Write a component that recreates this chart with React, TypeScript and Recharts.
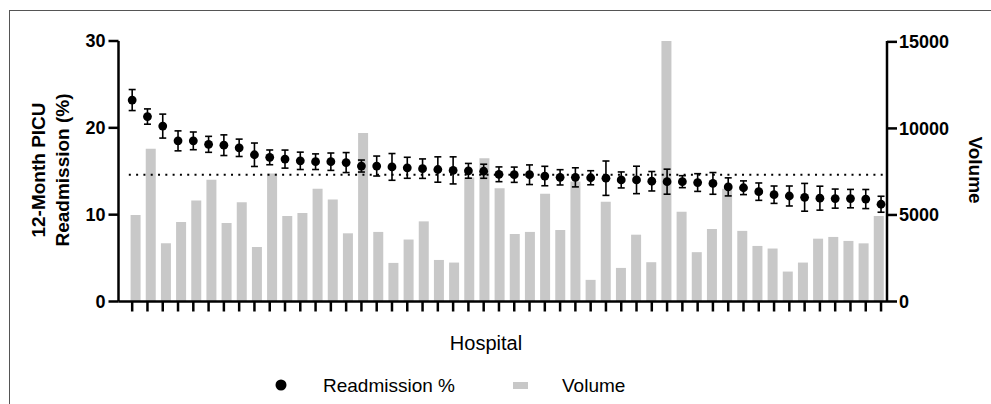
import React from "react";
import { Bar, ComposedChart, ErrorBar, Label, Legend, ReferenceLine, Scatter, XAxis, YAxis } from "recharts";

// hospital index (x position)
const hospitals = [
  0, 1, 2, 3, 4, 5, 6, 7, 8, 9, 10, 11, 12, 13, 14, 15, 16, 17, 18, 19, 20, 21, 22, 23, 24,
  25, 26, 27, 28, 29, 30, 31, 32, 33, 34, 35, 36, 37, 38, 39, 40, 41, 42, 43, 44, 45, 46, 47, 48, 49,
];
const readmission = [
  23.2, 21.3, 20.2, 18.5, 18.5, 18.1, 18.0, 17.7, 16.9, 16.6, 16.4, 16.2, 16.1, 16.1, 16.0, 15.6, 15.6,
  15.5, 15.4, 15.3, 15.2, 15.1, 15.05, 15.0, 14.65, 14.6, 14.6, 14.45, 14.3, 14.3, 14.25, 14.2, 14.0,
  14.0, 13.85, 13.8, 13.8, 13.7, 13.6, 13.2, 13.1, 12.65, 12.3, 12.15, 12.0, 11.9, 11.85, 11.85, 11.8, 11.2,
];
const readmissionErr = [
  1.21, 0.88, 1.38, 1.15, 1.02, 0.92, 1.19, 1.0, 1.35, 0.85, 1.04, 1.0, 0.9, 1.0, 1.15, 0.69, 1.15,
  1.54, 1.21, 1.12, 1.46, 1.56, 0.85, 0.81, 0.85, 0.88, 1.13, 1.12, 0.88, 1.1, 0.81, 1.98, 0.92,
  1.58, 1.12, 1.44, 0.69, 1.02, 1.25, 1.04, 0.79, 1.0, 1.0, 1.15, 1.6, 1.38, 1.1, 1.06, 1.1, 0.92,
];
const volume = [
  5000, 8820, 3360, 4600, 5830, 7040, 4540, 5730, 3150, 7400, 4940, 5120, 6520, 5900, 3940, 9730, 4020,
  2230, 3580, 4630, 2400, 2250, 7170, 8270, 6540, 3900, 4020, 6230, 4130, 6940, 1250, 5770, 1940,
  3860, 2270, 15050, 5190, 2850, 4190, 6520, 4080, 3210, 3060, 1730, 2250, 3630, 3730, 3500, 3360, 4940,
];
const pctTicks = [0, 10, 20, 30];
const volTicks = [0, 5000, 10000, 15000];
const overallRate = 14.6;

const data = hospitals.map((h, i) => ({
  i: h,
  pct: readmission[i],
  err: readmissionErr[i],
  volume: volume[i],
}));

const FONT = "'Liberation Sans', Arial, Helvetica, sans-serif";
const axisStyle = { stroke: "#000", strokeWidth: 2.5 };
const tickStyle = { fill: "#000", fontSize: 18, fontWeight: 700, fontFamily: FONT };

const Dot = (p: any) => <circle cx={p.cx} cy={p.cy} r={4.4} fill="#000" />;

function LegendBox() {
  return (
    <svg width={991} height={30} style={{ display: "block" }}>
      <circle cx={281} cy={15} r={5.5} fill="#000" />
      <text x={323} y={22} fontSize={19} fontFamily={FONT} fill="#000">Readmission %</text>
      <rect x={513} y={12} width={15} height={7} fill="#c8c8c8" />
      <text x={562} y={22} fontSize={19} fontFamily={FONT} fill="#000">Volume</text>
    </svg>
  );
}

export default function App() {
  return (
    <div style={{ position: "relative", width: 991, height: 404, background: "#fff", fontFamily: FONT }}>
      <style>{"body{margin:0}"}</style>
      <div
        style={{
          position: "absolute", left: 9, top: 10, width: 990, height: 400,
          borderTop: "1.5px solid #555", borderLeft: "1.5px solid #555",
        }}
      />
      <ComposedChart
        width={991}
        height={404}
        data={data}
        margin={{ top: 41, right: 0, bottom: 0, left: 0 }}
        style={{ position: "absolute", left: 0, top: 0 }}
      >
        <XAxis
          xAxisId="pts"
          dataKey="i"
          type="number"
          domain={[-0.895, 49.39]}
          allowDataOverflow
          ticks={hospitals}
          interval={0}
          tickFormatter={() => ""}
          tickSize={10}
          tickLine={axisStyle}
          axisLine={axisStyle}
          height={102.5}
        >
          <Label
            content={() => (
              <text x={486} y={350} textAnchor="middle" fontSize={20} fontFamily={FONT} fill="#000">
                Hospital
              </text>
            )}
          />
        </XAxis>
        <XAxis
          xAxisId="bars"
          dataKey="i"
          type="number"
          orientation="top"
          height={0}
          domain={[-1.099, 49.57]}
          allowDataOverflow
          hide
        />
        <YAxis
          yAxisId="pct"
          domain={[0, 30]}
          ticks={pctTicks}
          interval={0}
          width={118.5}
          tickSize={10}
          tickMargin={3}
          tick={tickStyle}
          tickLine={axisStyle}
          axisLine={axisStyle}
        >
          <Label
            content={() => (
              <text
                transform="translate(45,170) rotate(-90)"
                textAnchor="middle"
                fontSize={19}
                fontWeight={700}
                fontFamily={FONT}
                fill="#000"
              >
                <tspan x={0} y={0}>12-Month PICU</tspan>
                <tspan x={0} y={23.5}>Readmission (%)</tspan>
              </text>
            )}
          />
        </YAxis>
        <YAxis
          yAxisId="vol"
          orientation="right"
          domain={[0, 15000]}
          ticks={volTicks}
          interval={0}
          width={104}
          tickSize={10}
          tickMargin={2}
          tick={tickStyle}
          tickLine={axisStyle}
          axisLine={axisStyle}
        >
          <Label
            content={() => (
              <text
                transform="translate(968.5,170) rotate(90)"
                textAnchor="middle"
                fontSize={19}
                fontWeight={700}
                fontFamily={FONT}
                fill="#000"
              >
                Volume
              </text>
            )}
          />
        </YAxis>
        <Bar
          xAxisId="bars"
          yAxisId="vol"
          dataKey="volume"
          barSize={10}
          fill="#c8c8c8"
          isAnimationActive={false}
        />
        <ReferenceLine
          xAxisId="pts"
          yAxisId="pct"
          segment={[{ x: -0.22, y: overallRate }, { x: 49.14, y: overallRate }]}
          stroke="#000"
          strokeWidth={2}
          strokeDasharray="2 5.3"
        />
        <Scatter
          xAxisId="pts"
          yAxisId="pct"
          dataKey="pct"
          shape={Dot}
          isAnimationActive={false}
        >
          <ErrorBar dataKey="err" direction="y" width={3.5} stroke="#000" strokeWidth={1.6} />
        </Scatter>
        <Legend
          verticalAlign="middle"
          align="center"
          wrapperStyle={{ top: 370, left: 0, width: 991, height: 30 }}
          content={() => <LegendBox />}
        />
      </ComposedChart>
    </div>
  );
}
